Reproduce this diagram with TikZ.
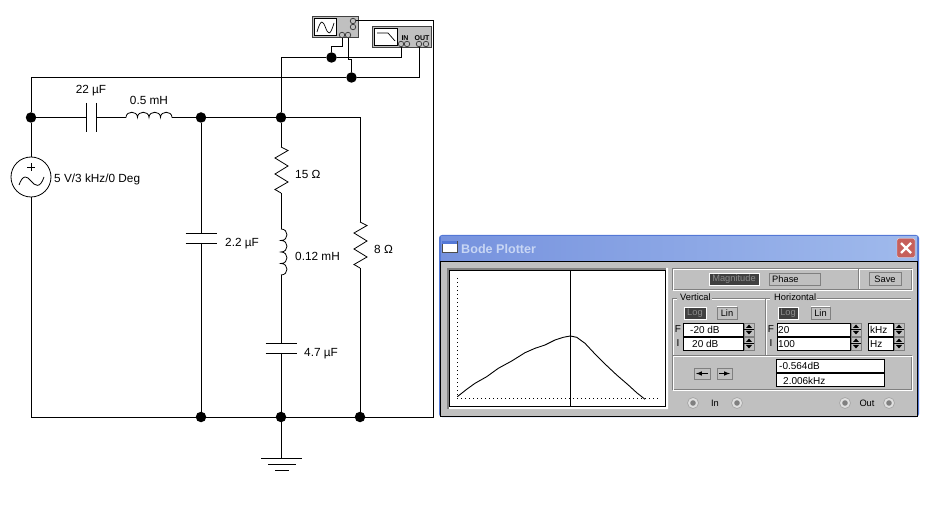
\documentclass[tikz,border=0pt]{standalone}
\usepackage{fontspec}
\setmainfont{Liberation Sans}
\usetikzlibrary{positioning, calc}
\definecolor{panelgrey}{RGB}{192,192,192}
\definecolor{shadowgrey}{RGB}{128,128,128}
\definecolor{btndark}{RGB}{64,64,64}
\definecolor{titleleft}{RGB}{118,146,222}
\definecolor{titleright}{RGB}{160,186,236}
\definecolor{titletext}{RGB}{200,214,244}
\definecolor{closered}{RGB}{198,96,92}
\definecolor{winblue}{RGB}{84,120,214}

\begin{document}
\begin{tikzpicture}[
    x=1pt, y=-1pt,
    every node/.style={font=\fontsize{11.8}{14}\selectfont},
    wire/.style={line width=1pt},
    dot/.style={circle, fill=black, inner sep=0pt, minimum size=10.5pt},
    term/.style={circle, draw=black!80, fill=panelgrey, line width=0.7pt, inner sep=0pt, minimum size=5.5pt},
    complabel/.style={anchor=west, inner sep=0pt},
    instr/.style={rectangle, draw=black!75, fill=panelgrey, line width=1pt, inner sep=0pt},
    screen/.style={rectangle, draw=black, fill=white, line width=1pt, inner sep=0pt},
    tiny/.style={font=\fontsize{7}{8}\selectfont\bfseries, inner sep=0pt},
    paneltext/.style={font=\fontsize{10}{12}\selectfont, inner sep=0pt},
    panellabel/.style={font=\fontsize{9.3}{12}\selectfont, inner sep=0pt},
    btn/.style={rectangle, draw=shadowgrey, fill=panelgrey, inner sep=0pt, minimum height=12pt,
        font=\fontsize{9.3}{12}\selectfont,
        path picture={\draw[white, line width=1.6pt] (path picture bounding box.south west) |- (path picture bounding box.north east);}},
    btnon/.style={btn, draw=white, fill=btndark, text=black!45, path picture={}},
    field/.style={rectangle, draw=black, fill=white, line width=0.8pt, inner sep=0pt, minimum height=13pt,
        font=\fontsize{10}{12}\selectfont},
    groove/.style={draw=shadowgrey, line width=0.8pt},
    grooveb/.style={draw=white, line width=0.8pt},
    resv/.pic={
        \coordinate (-a) at (0,0);
        \coordinate (-b) at (0,46);
        \draw[line width=0.8pt] (0,0) -- (7,3.5) -- (-6,11) -- (7,19) -- (-6,27) -- (7,35) -- (-6,42.5) -- (0,46);
    },
    coilv/.pic={
        \coordinate (-a) at (0,0);
        \coordinate (-b) at (0,46);
        \draw[line width=0.8pt] (0,0) \foreach \k in {1,2,3,4}{ .. controls +(8,0) and +(8,0) .. ++(0,11.5) };
    },
    coilh/.pic={
        \coordinate (-a) at (0,0);
        \coordinate (-b) at (46,0);
        \draw[line width=0.8pt] (0,0) \foreach \k in {1,2,3,4}{ .. controls +(0,-7) and +(0,-7) .. ++(11.5,0) };
    },
    capv/.pic={
        \coordinate (-a) at (0,-5);
        \coordinate (-b) at (0,5);
        \draw[line width=0.8pt] (-15.5,-5) -- (15.5,-5) (-15.5,5) -- (15.5,5);
    },
    caph/.pic={
        \coordinate (-a) at (-5,0);
        \coordinate (-b) at (5,0);
        \draw[line width=0.8pt] (-5,-14.5) -- (-5,14.5) (5,-14.5) -- (5,14.5);
    },
    spin/.pic={
        \draw[fill=panelgrey, draw=shadowgrey, line width=0.6pt] (0,0) rectangle (10,13);
        \draw[draw=black, line width=0.5pt] (0,6.5) -- (10,6.5);
        \fill[black] (5,1.5) -- (8,5) -- (2,5) -- cycle;
        \fill[black] (5,11.5) -- (8,8) -- (2,8) -- cycle;
    },
    jack/.pic={
        \fill[panelgrey!50!white] (0,0) circle (5.5);
        \draw[black!35, line width=0.7pt] (0,0) circle (5.5);
        \fill[shadowgrey] (0,0) circle (2.8);
    },
]
\useasboundingbox (0,0) rectangle (940,521);

% === JUNCTIONS ===
\node[dot] (n1) at (31,117.5) {};
\node[dot] (n2) at (201,117.5) {};
\node[dot] (n3) at (281,117.5) {};
\node[dot] (n4) at (201,417) {};
\node[dot] (n5) at (281,417) {};
\node[dot] (n6) at (360,417) {};
\node[dot] (n7) at (331.5,57.5) {};
\node[dot] (n8) at (351.5,77.5) {};

% === INSTRUMENTS ===
\node[instr, minimum width=46pt, minimum height=21pt] (scope) at (335,27.5) {};
\node[screen, minimum width=22pt, minimum height=17pt] (scopescreen) at (325.5,27.5) {};
\draw[line width=0.7pt] (317,32) .. controls (321,18) and (323,21) .. (325.5,27.5) .. controls (328,34) and (330,37) .. (334,23);
\node[term] (s1) at (342,35) {};
\node[term] (s2) at (348,35) {};
\node[term] (s3) at (353,21) {};
\node[term] (s4) at (353,27) {};

\node[instr, minimum width=59pt, minimum height=21pt] (bode) at (401.5,37.5) {};
\node[screen, minimum width=23pt, minimum height=17pt] (bodescreen) at (385.5,37.5) {};
\draw[line width=0.7pt] (377,33) -- (388,33) -- (395,41);
\node[tiny] at (405,38) {IN};
\node[tiny] at (422,38) {OUT};
\node[term] (b1) at (401,44) {};
\node[term] (b2) at (407,44) {};
\node[term] (b3) at (419,44) {};
\node[term] (b4) at (426,44) {};

% === COMPONENTS ===
\node[circle, draw=black, line width=0.8pt, inner sep=0pt, minimum size=40pt] (src) at (31,177) {};
\draw[line width=0.8pt] (27,167) -- (35,167) (31,163) -- (31,171);
\draw[line width=0.8pt] (19,185) .. controls (23,174) and (27,176) .. (31,181) .. controls (35,186) and (40,189) .. (44,177);
\pic (c1) at (91,117.5) {caph};
\pic (l1) at (126,117.5) {coilh};
\pic (r1) at (281,147) {resv};
\pic (l2) at (281,229) {coilv};
\pic (c3) at (281,348) {capv};
\pic (c2) at (201,238) {capv};
\pic (r2) at (360,222) {resv};

% === WIRES ===
\coordinate (cr1) at (433.5,21);
\coordinate (gnd) at (281,458);
\coordinate (s1k) at (342,47);
\coordinate (s2k) at (348,60);
\draw[wire] (n8) -| (n1);
\draw[wire] (n7) -| (n3);
\draw[wire] (n7) -| (b1);
\draw[wire] (n8) -| (b3);
\draw[wire] (s1) -- (s1k) -| (n7);
\draw[wire] (s2) -- (s2k) -| (n8);
\draw[wire] (s3) -- (cr1) |- (n6);
\draw[wire] (n1) -- (src);
\draw[wire] (src) |- (n4);
\draw[wire] (n4) -- (n5);
\draw[wire] (n5) -- (n6);
\draw[wire] (n1) -- (c1-a);
\draw[wire] (c1-b) -- (l1-a);
\draw[wire] (l1-b) -- (n2);
\draw[wire] (n2) -- (n3);
\draw[wire] (n3) -| (r2-a);
\draw[wire] (n3) -- (r1-a);
\draw[wire] (r1-b) -- (l2-a);
\draw[wire] (l2-b) -- (c3-a);
\draw[wire] (c3-b) -- (n5);
\draw[wire] (n2) -- (c2-a);
\draw[wire] (c2-b) -- (n4);
\draw[wire] (r2-b) -- (n6);
\draw[wire] (n5) -- (gnd);

% Ground bars
\draw[wire] (261,458) -- (302,458);
\draw[wire] (268,464) -- (296,464);
\draw[wire] (275,470) -- (289,470);

% === COMPONENT LABELS ===
\node[inner sep=0pt] (c1lab) at (91,91) {22 µF};
\node[inner sep=0pt] (l1lab) at (149,100) {0.5 mH};
\node[complabel] (srclab) at (54,179) {5 V/3 kHz/0 Deg};
\node[complabel] (r1lab) at (295,174) {15 Ω};
\node[complabel] (c2lab) at (225,243.5) {2.2 µF};
\node[complabel] (l2lab) at (295,256) {0.12 mH};
\node[complabel] (c3lab) at (304,353.5) {4.7 µF};
\node[complabel] (r2lab) at (374,249) {8 Ω};

% === BODE PLOTTER WINDOW ===
\fill[winblue, rounded corners=3pt] (439,235) rectangle (919,417);
\shade[left color=titleleft, right color=titleright] (441,237) rectangle (917,262);
\draw[black, fill=panelgrey, line width=1pt] (440.5,262) rectangle (917.5,416);
\draw[fill=white, draw=black!70, line width=0.6pt] (442,241) rectangle (457,252);
\fill[winblue] (442,241) rectangle (457,244);
\node[anchor=west, inner sep=0pt, text=titletext, font=\fontsize{12.6}{15}\selectfont\bfseries] (wintitle) at (461,248.5) {Bode Plotter};
\node[rectangle, rounded corners=2pt, draw=white!80!closered, fill=closered, inner sep=0pt, minimum width=18pt, minimum height=19pt] (closebtn) at (906,248) {};
\draw[white, line width=2.2pt] (901,243) -- (911,253) (911,243) -- (901,253);

% Plot area
\draw[fill=shadowgrey, draw=none] (447,268) rectangle (668,409);
\fill[white] (449,409) -- (668,409) -- (668,268) -- (666,268) -- (666,407) -- (449,407) -- cycle;
\draw[black, fill=white, line width=1pt] (449.5,270.5) rectangle (665.5,406.5);
\draw[black, line width=1pt, dash pattern=on 1pt off 3pt] (457,278) -- (457,398) -- (658,398);
\draw[black, line width=1pt] (570,270.5) -- (570,406.5);
\draw[black, line width=0.9pt] plot coordinates {(457.3,396.7) (466.7,389.3) (475,383.3) (486.7,376.7) (498.3,368.3) (511.7,361) (525,352.7) (535,348.3) (545,345) (555,340) (563.3,337.3) (570.3,336) (576.7,337.3) (585,343.3) (595,354) (605,364) (616.7,375) (628.3,385) (636.7,392.7) (645,399.3)};

% Group frames
\draw[groove] (672,268) rectangle (911,289);
\draw[grooveb] (673,269) rectangle (912,290);
\draw[groove] (858,268) -- (858,289);
\draw[grooveb] (859,269) -- (859,289);
\draw[groove] (672,355) rectangle (911,389);
\draw[grooveb] (673,356) rectangle (912,390);
\draw[groove] (672,355) |- (677,298) (712,298) -- (770,298) (816,298) -- (911,298);
\draw[grooveb] (673,355) |- (677,299) (712,299) -- (770,299) (816,299) -- (911,299);
\draw[groove] (765,298) -- (765,355);
\draw[grooveb] (766,299) -- (766,355);
\node[panellabel, anchor=west, fill=panelgrey, inner xsep=1pt] (vlab) at (679,297) {Vertical};
\node[panellabel, anchor=west, fill=panelgrey, inner xsep=1pt] (hlab) at (773,297) {Horizontal};

% Top buttons
\node[btnon, minimum width=50pt] (magbtn) at (734,279.5) {Magnitude};
\node[btn, minimum width=51pt] (phasebtn) at (794.5,279.5) {};
\node[panellabel, anchor=west] (phaselab) at (772,279) {Phase};
\node[btn, minimum width=32pt, minimum height=13pt] (savebtn) at (885,279) {Save};

% Log / Lin buttons
\node[btnon, minimum width=22pt] (vlog) at (695,313) {Log};
\node[btn, minimum width=20pt] (vlin) at (727,313) {Lin};
\node[btnon, minimum width=20pt] (hlog) at (788,313) {Log};
\node[btn, minimum width=19pt] (hlin) at (820.5,313) {Lin};

% Fields
\node[paneltext] (ff1) at (678,329) {F};
\node[paneltext] (ii1) at (678,343) {I};
\node[paneltext] (ff2) at (771,329) {F};
\node[paneltext] (ii2) at (771,343) {I};
\node[field, minimum width=60pt] (vf) at (713,329.5) {};
\node[field, minimum width=60pt] (vi) at (713,343.5) {};
\node[field, minimum width=73pt] (hf) at (813.5,329.5) {};
\node[field, minimum width=73pt] (hi) at (813.5,343.5) {};
\node[field, minimum width=25pt] (uf) at (880.5,329.5) {};
\node[field, minimum width=25pt] (ui) at (880.5,343.5) {};
\node[paneltext, anchor=west] at (690,330) {-20 dB};
\node[paneltext, anchor=west] at (692,344) {20 dB};
\node[paneltext, anchor=west] at (778,330) {20};
\node[paneltext, anchor=west] at (778,344) {100};
\node[paneltext, anchor=west] at (870,330) {kHz};
\node[paneltext, anchor=west] at (870,344) {Hz};
\foreach \sx in {744,851,894}{
    \pic at (\sx,323) {spin};
    \pic at (\sx,337) {spin};
}

% Read-outs and arrows
\node[field, minimum width=108pt] (rd1) at (830,365.5) {};
\node[field, minimum width=108pt] (rd2) at (830,380) {};
\node[paneltext, anchor=west] at (779,366) {-0.564dB};
\node[paneltext, anchor=west] at (783,380.5) {2.006kHz};
\node[btn, minimum width=16pt, minimum height=11pt] (leftbtn) at (702,373.5) {};
\node[btn, minimum width=15pt, minimum height=11pt] (rightbtn) at (724.5,373.5) {};
\draw[-latex, line width=1pt] (708,373.5) -- (696,373.5);
\draw[-latex, line width=1pt] (719,373.5) -- (730,373.5);

% In / Out jacks
\pic at (693,403) {jack};
\pic at (737,403) {jack};
\pic at (845,403) {jack};
\pic at (889,403) {jack};
\node[panellabel] (inlab) at (715,403) {In};
\node[panellabel] (outlab) at (867,403) {Out};

\end{tikzpicture}
\end{document}
